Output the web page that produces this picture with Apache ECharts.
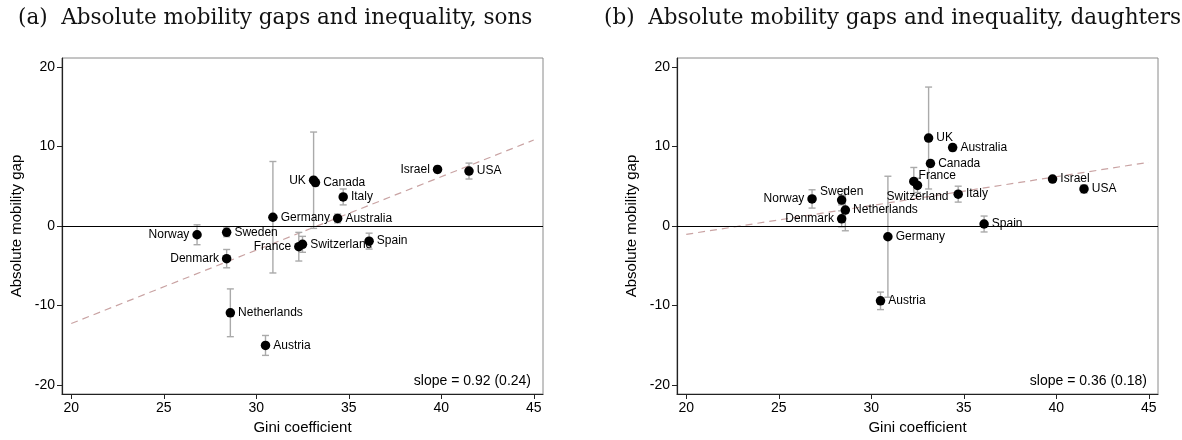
<!DOCTYPE html>
<html>
<head>
<meta charset="utf-8">
<script src="https://cdn.jsdelivr.net/npm/echarts@6/dist/echarts.min.js"></script>
<style>
html,body{margin:0;padding:0;background:#fff;}
#chart{width:1182px;height:440px;}
</style>
</head>
<body>
<div id="chart"></div>
<script>
// ---- data ----
const countries = ['Norway','Sweden','Denmark','Netherlands','Germany','Austria','France','Switzerland','UK','Canada','Italy','Australia','Spain','Israel','USA'];
const gini = [26.8, 28.4, 28.4, 28.6, 30.9, 30.5, 32.3, 32.5, 33.1, 33.2, 34.7, 34.4, 36.1, 39.8, 41.5];
const sonsGap = [-1.1, -0.8, -4.1, -10.9, 1.1, -15.0, -2.6, -2.3, 5.75, 5.45, 3.65, 0.95, -1.9, 7.1, 6.9];
const sonsErr = [1.25, 0.55, 1.15, 3.0, 7.0, 1.25, 1.8, 1.0, 6.05, 0.4, 1.0, 0.55, 1.0, 0.4, 1.0];
const daughtersGap = [3.4, 3.25, 0.9, 2.0, -1.35, -9.4, 5.6, 5.1, 11.05, 7.85, 4.0, 9.85, 0.25, 5.9, 4.65];
const daughtersErr = [1.15, 0.6, 1.0, 2.6, 7.6, 1.1, 1.75, 0.9, 6.4, 0.4, 1.0, 0.4, 1.0, 0.3, 0.5];
const sonsFit = [[20, -12.25], [45, 10.8]];
const daughtersFit = [[20, -1.05], [45, 8.0]];
const xTicks = [20, 25, 30, 35, 40, 45];
const yTicks = [-20, -10, 0, 10, 20];
const titles = ['(a)  Absolute mobility gaps and inequality, sons', '(b)  Absolute mobility gaps and inequality, daughters'];
const slopeTexts = ['slope = 0.92 (0.24)', 'slope = 0.36 (0.18)'];

// ---- label placement (style, not data) ----
const labelPosSons = {
  Norway:{position:'left'}, Denmark:{position:'left'}, France:{position:'left'},
  UK:{position:'left'}, Israel:{position:'left'}
};
const labelPosDaughters = {
  Norway:{position:'left'}, Denmark:{position:'left'},
  Sweden:{position:'top', offset:[0,5]},
  France:{position:'right', offset:[-3,-6]},
  Switzerland:{position:'bottom', offset:[0,-2]}
};

const sansFont = '"Liberation Sans", Arial, Helvetica, sans-serif';
const serifFont = '"DejaVu Serif", "Liberation Serif", serif';

function pointData(gaps, posMap) {
  return countries.map((c, i) => {
    const p = posMap[c] || {position:'right'};
    return {
      name: c,
      value: [gini[i], gaps[i]],
      label: Object.assign({position: p.position}, p.offset ? {offset: p.offset} : {})
    };
  });
}
function errData(gaps, errs) {
  return countries.map((c, i) => [gini[i], gaps[i] - errs[i], gaps[i] + errs[i]]);
}
function renderErr(params, api) {
  const x = api.value(0);
  const lo = api.coord([x, api.value(1)]);
  const hi = api.coord([x, api.value(2)]);
  const cap = 3.5;
  const st = {stroke:'#aaaaaa', lineWidth:1.4};
  return {
    type:'group',
    children:[
      {type:'line', shape:{x1:lo[0], y1:lo[1], x2:hi[0], y2:hi[1]}, style:st},
      {type:'line', shape:{x1:lo[0]-cap, y1:lo[1], x2:lo[0]+cap, y2:lo[1]}, style:st},
      {type:'line', shape:{x1:hi[0]-cap, y1:hi[1], x2:hi[0]+cap, y2:hi[1]}, style:st}
    ]
  };
}

function xAxisCfg(gi) {
  return {
    gridIndex: gi, type:'value', min:19.5, max:45.5,
    name:'Gini coefficient', nameLocation:'middle', nameGap:26,
    nameTextStyle:{fontFamily:sansFont, fontSize:15, color:'#000'},
    axisLine:{show:true, onZero:false, lineStyle:{color:'#222', width:1.2}},
    axisTick:{show:true, length:5, customValues:xTicks, lineStyle:{color:'#222'}},
    axisLabel:{customValues:xTicks, margin:7, fontFamily:sansFont, fontSize:14, color:'#000'},
    splitLine:{show:false}
  };
}
function yAxisCfg(gi) {
  return {
    gridIndex: gi, type:'value', min:-21.1, max:21.1,
    name:'Absolute mobility gap', nameLocation:'middle', nameGap:38,
    nameTextStyle:{fontFamily:sansFont, fontSize:15, color:'#000'},
    axisLine:{show:true, onZero:false, lineStyle:{color:'#222', width:1.2}},
    axisTick:{show:true, length:5, customValues:yTicks, lineStyle:{color:'#222'}},
    axisLabel:{customValues:yTicks, margin:7, fontFamily:sansFont, fontSize:14, color:'#000'},
    splitLine:{show:false}
  };
}

function panelSeries(gi, gaps, errs, fit, posMap) {
  return [
    {
      type:'line', xAxisIndex:gi, yAxisIndex:gi, data:fit, showSymbol:false, symbol:'none',
      lineStyle:{color:'#c9a3a3', width:1.2, type:[7,5]}, z:1, silent:true,
      markLine:{
        silent:true, symbol:'none', animation:false,
        label:{show:false},
        lineStyle:{color:'#000', width:1.2, type:'solid'},
        data:[{yAxis:0}]
      }
    },
    {
      type:'custom', xAxisIndex:gi, yAxisIndex:gi, data:errData(gaps, errs),
      renderItem:renderErr, z:2, silent:true
    },
    {
      type:'scatter', xAxisIndex:gi, yAxisIndex:gi, data:pointData(gaps, posMap),
      symbol:'circle', symbolSize:9.5, itemStyle:{color:'#000', opacity:1}, z:3,
      label:{show:true, formatter:'{b}', distance:3, fontFamily:sansFont, fontSize:12, color:'#000'}
    }
  ];
}

const chart = echarts.init(document.getElementById('chart'), null, {renderer:'canvas'});
chart.setOption({
  animation:false,
  backgroundColor:'#fff',
  grid:[
    {left:62, top:58, width:481, height:338, show:true, borderColor:'#8a8a8a', borderWidth:1, backgroundColor:'transparent'},
    {left:677, top:58, width:481, height:338, show:true, borderColor:'#8a8a8a', borderWidth:1, backgroundColor:'transparent'}
  ],
  xAxis:[xAxisCfg(0), xAxisCfg(1)],
  yAxis:[yAxisCfg(0), yAxisCfg(1)],
  series:[].concat(
    panelSeries(0, sonsGap, sonsErr, sonsFit, labelPosSons),
    panelSeries(1, daughtersGap, daughtersErr, daughtersFit, labelPosDaughters)
  ),
  graphic:[
    {type:'text', left:18, top:7, style:{text:titles[0], font:'21.5px ' + serifFont, fill:'#111'}},
    {type:'text', left:604, top:7, style:{text:titles[1], font:'21.5px ' + serifFont, fill:'#111'}},
    {type:'text', right:1182-531, top:374, style:{text:slopeTexts[0], font:'14px ' + sansFont, fill:'#000'}},
    {type:'text', right:1182-1147, top:374, style:{text:slopeTexts[1], font:'14px ' + sansFont, fill:'#000'}}
  ]
});
</script>
</body>
</html>
